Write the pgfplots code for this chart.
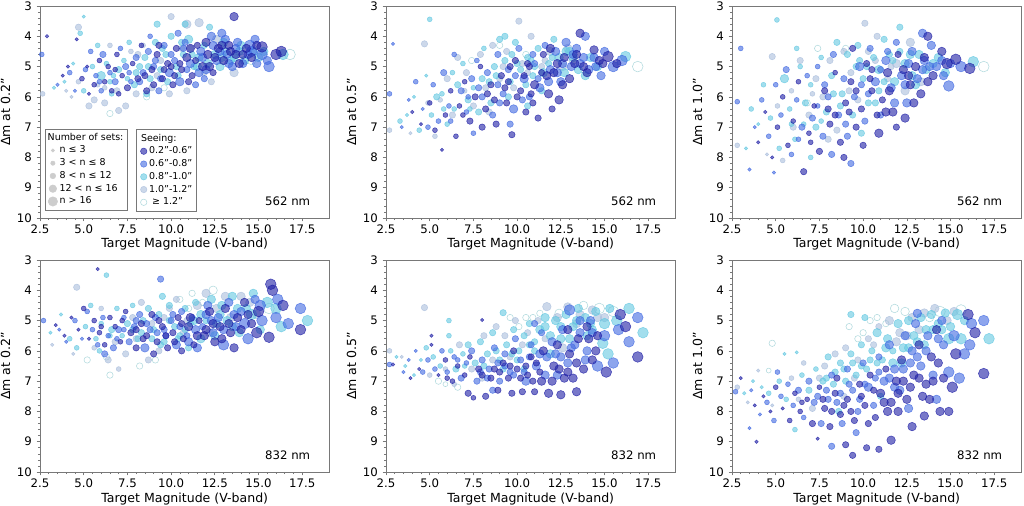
\documentclass[border=0pt]{standalone}
\usepackage{fontspec}
\setmainfont{DejaVu Sans}
\usepackage{pgfplots}
\usepackage{pgfplotstable}
\pgfplotsset{compat=1.18}
\definecolor{cA}{RGB}{30,30,165}
\definecolor{cB}{RGB}{65,105,225}
\definecolor{cC}{RGB}{100,200,225}
\definecolor{cD}{RGB}{170,190,220}
\definecolor{cE}{RGB}{150,205,210}
\definecolor{cG}{RGB}{205,205,205}
\definecolor{frame}{RGB}{120,120,120}

% ---------------- data: x = target magnitude, y = Delta m, s = size class value
% Panel 1: 562 nm, 0.2"
\pgfplotstableread[row sep=\\]{x y s\\
2.9 4.0 1.1\\ 3.8 5.3 1.1\\ 4.1 5.0 1.1\\ 4.6 4.1 1.1\\ 4.9 5.4 1.6\\ 5.3 5.9 1.1\\ 5.6 5.6 1.6\\ 5.9 4.8 1.6\\ 6.2 5.5 1.6\\ 6.4 5.0 1.6\\
6.6 5.8 1.6\\ 6.9 4.6 1.6\\ 7.2 5.3 1.6\\ 7.5 5.7 2.1\\ 7.8 4.9 1.6\\ 8.1 5.4 2.1\\ 8.3 4.3 1.6\\ 8.6 5.8 2.1\\ 8.9 5.1 2.1\\ 9.2 4.6 2.1\\
9.5 5.4 2.1\\ 9.8 4.9 2.1\\ 10.1 5.6 2.1\\ 10.3 4.4 2.1\\ 10.6 5.1 2.1\\ 10.9 4.7 2.8\\ 11.2 5.3 2.1\\ 11.5 4.3 2.1\\ 11.8 5.0 2.8\\ 12.1 4.6 2.8\\
12.4 5.2 2.1\\ 12.7 4.4 2.8\\ 13.0 4.8 2.8\\ 13.3 4.3 2.8\\ 13.7 4.6 2.8\\ 13.6 3.35 2.8\\ 14.3 4.4 2.8\\ 14.6 4.7 2.8\\ 15.2 4.35 3.5\\ 16.0 4.6 3.5\\
10.0 5.0 2.1\\ 9.0 5.6 2.1\\ 11.0 5.5 2.1\\ 12.0 4.2 2.8\\ 7.0 5.9 1.6\\ 16.3 4.5 3.5\\
9.6 5.1 2.1\\ 10.5 4.9 2.1\\ 11.4 4.8 2.1\\ 12.2 5.0 2.8\\ 13.4 4.5 2.8\\ 8.5 5.3 2.1\\ 12.9 4.3 2.8\\ 14.1 4.6 2.8\\
9.3 4.3 2.1\\ 10.2 5.3 2.1\\ 11.1 4.4 2.8\\ 12.5 4.7 2.8\\ 13.9 4.9 2.8\\ 14.9 4.3 2.8\\ 6.8 5.1 1.6\\ 5.2 5.0 1.1\\}\PoneA
\pgfplotstableread[row sep=\\]{x y s\\
2.6 4.6 1.6\\ 3.5 5.6 1.1\\ 4.2 5.2 1.6\\ 4.5 5.8 1.1\\ 5.1 5.1 1.6\\ 5.4 4.5 1.6\\ 5.7 5.3 1.6\\ 6.0 5.8 1.6\\ 6.1 4.6 2.1\\ 6.5 5.2 1.6\\
6.8 5.5 2.1\\ 7.1 4.4 1.6\\ 7.4 5.0 2.1\\ 7.7 5.5 1.6\\ 8.0 4.7 2.1\\ 8.4 5.2 2.1\\ 8.7 4.5 2.1\\ 9.0 5.0 2.1\\ 9.3 5.8 2.1\\ 9.6 4.3 2.1\\
9.9 5.2 2.8\\ 10.2 4.8 2.1\\ 10.5 5.5 2.8\\ 10.8 4.2 2.1\\ 11.1 4.9 2.8\\ 11.4 5.6 2.1\\ 11.7 4.5 2.8\\ 12.0 5.1 2.8\\ 12.3 4.0 2.8\\ 12.6 4.8 2.8\\
12.9 3.9 2.8\\ 13.2 4.6 2.8\\ 13.5 5.0 2.8\\ 13.8 4.2 2.8\\ 14.1 4.9 2.8\\ 14.5 4.3 3.5\\ 14.8 4.1 2.8\\ 15.2 4.6 3.5\\ 15.5 4.8 2.8\\ 15.6 5.0 3.5\\
14.9 4.9 2.8\\ 13.1 4.1 2.8\\ 10.4 3.9 2.1\\ 8.8 4.0 1.6\\ 11.9 5.4 2.1\\
9.1 4.8 2.1\\ 10.0 4.6 2.1\\ 10.9 5.1 2.1\\ 11.8 4.7 2.8\\ 12.8 4.5 2.8\\ 13.7 4.4 2.8\\ 8.2 5.5 2.1\\ 14.4 4.6 2.8\\
9.4 5.4 2.1\\ 10.7 4.4 2.1\\ 11.6 5.2 2.8\\ 12.4 4.3 2.8\\ 13.3 4.9 2.8\\ 14.6 4.5 3.5\\ 7.6 5.2 1.6\\ 5.9 5.5 1.6\\}\PoneB
\pgfplotstableread[row sep=\\]{x y s\\
3.3 5.7 1.1\\ 3.9 5.5 1.1\\ 4.4 4.9 1.1\\ 4.8 3.9 1.6\\ 5.0 5.8 1.6\\ 5.0 3.35 1.1\\ 5.5 5.0 1.6\\ 5.8 4.3 1.6\\ 6.0 5.3 2.8\\ 6.3 4.9 1.6\\
6.7 5.3 1.6\\ 7.0 5.1 2.1\\ 7.3 4.8 1.6\\ 7.6 4.2 1.6\\ 7.9 5.6 2.1\\ 8.2 5.0 2.1\\ 8.5 4.7 2.1\\ 8.8 5.4 2.1\\ 9.1 4.2 2.1\\ 9.4 5.1 2.1\\
9.7 4.6 2.1\\ 10.0 4.0 2.1\\ 10.4 5.3 2.1\\ 10.7 4.6 2.1\\ 11.0 4.1 2.8\\ 11.3 5.0 2.1\\ 11.6 4.7 2.8\\ 11.9 4.3 2.1\\ 12.2 3.7 2.1\\ 12.5 4.6 2.8\\
12.8 5.0 2.8\\ 13.1 4.5 2.8\\ 13.4 4.8 2.8\\ 13.9 4.5 2.8\\ 14.2 4.8 2.8\\ 14.7 4.5 2.8\\ 15.0 4.7 2.8\\ 16.4 4.6 3.5\\ 9.2 3.6 2.1\\ 10.8 3.6 2.1\\
6.6 5.9 1.6\\ 8.6 5.9 2.1\\
8.7 5.0 2.1\\ 9.5 4.4 2.1\\ 10.3 5.0 2.1\\ 11.2 4.6 2.1\\ 12.1 4.9 2.8\\ 13.0 4.2 2.8\\ 7.5 5.4 1.6\\ 14.0 4.3 2.8\\
9.8 5.5 2.1\\ 10.6 4.2 2.1\\ 11.5 5.0 2.8\\ 12.9 4.7 2.8\\ 13.6 4.7 2.8\\ 15.3 4.5 2.8\\ 6.5 5.5 1.6\\ 8.0 5.2 2.1\\}\PoneC
\pgfplotstableread[row sep=\\]{x y s\\
2.65 5.9 1.6\\ 4.0 5.8 1.1\\ 4.7 5.5 1.6\\ 5.3 6.3 2.1\\ 5.6 6.1 2.1\\ 5.8 5.6 1.6\\ 6.2 6.2 2.1\\ 6.5 4.3 1.6\\ 6.9 5.8 2.1\\ 7.0 6.45 2.1\\
7.7 4.5 1.6\\ 8.0 5.9 2.1\\ 8.4 4.3 1.6\\ 8.9 5.7 2.1\\ 9.4 4.8 2.1\\ 9.9 5.9 2.1\\ 10.0 3.35 2.1\\ 10.9 5.8 2.1\\ 10.9 3.6 2.8\\ 11.6 3.55 2.8\\
12.3 5.5 2.1\\ 13.6 5.2 2.8\\ 4.7 3.7 2.1\\ 4.3 6.0 1.1\\ 7.4 6.3 2.1\\ 11.1 4.4 2.1\\
9.2 5.3 2.1\\ 10.6 4.4 2.1\\ 11.9 5.2 2.1\\ 12.6 4.1 2.8\\ 8.1 4.6 2.1\\ 6.2 5.7 1.6\\}\PoneD
\pgfplotstableread[row sep=\\]{x y s\\
6.5 6.55 2.1\\ 16.8 4.6 3.5\\ 9.6 5.7 2.1\\ 14.6 4.8 2.8\\ 8.6 6.0 2.1\\}\PoneE

% Panel 2: 562 nm, 0.5"
\pgfplotstableread[row sep=\\]{x y s\\
4.0 6.5 1.1\\ 4.5 6.9 1.1\\ 5.0 6.2 1.6\\ 5.3 7.1 1.6\\ 5.7 7.75 1.1\\ 5.9 6.6 1.6\\ 6.2 5.8 1.6\\ 6.5 7.3 1.6\\ 6.7 6.3 1.6\\ 7.0 5.5 1.6\\
7.3 6.8 2.1\\ 7.6 6.0 2.1\\ 7.9 5.0 1.6\\ 8.2 6.4 2.1\\ 8.5 5.6 2.1\\ 8.8 6.9 2.1\\ 9.1 5.3 2.1\\ 9.4 6.2 2.1\\ 9.7 7.25 2.1\\ 9.9 4.8 2.1\\
10.2 5.8 2.1\\ 10.5 6.5 2.1\\ 10.7 5.0 2.1\\ 11.0 5.6 2.8\\ 11.2 6.7 2.1\\ 11.5 4.6 2.1\\ 11.8 5.9 2.8\\ 12.1 5.2 2.8\\ 12.4 6.1 2.8\\ 12.7 4.7 2.8\\
13.0 5.4 2.8\\ 13.3 4.9 2.8\\ 13.6 3.9 2.8\\ 14.0 5.2 2.8\\ 14.4 4.45 2.8\\ 14.7 4.8 2.8\\ 15.2 4.67 3.5\\ 15.7 4.9 2.8\\ 10.0 6.0 2.1\\ 8.0 7.0 2.1\\
9.3 5.7 2.1\\ 10.9 6.2 2.1\\ 12.0 6.4 2.1\\
10.4 5.3 2.1\\ 11.4 5.2 2.1\\ 12.3 4.9 2.8\\ 9.6 5.0 2.1\\ 13.4 4.6 2.8\\ 10.8 5.9 2.1\\ 8.7 6.1 2.1\\ 11.9 4.4 2.8\\
10.6 4.9 2.1\\ 11.7 5.3 2.8\\ 12.6 5.6 2.8\\ 13.8 5.0 2.8\\ 9.5 5.5 2.1\\ 6.9 6.6 1.6\\ 8.3 5.9 2.1\\ 14.9 4.9 2.8\\}\PtwoA
\pgfplotstableread[row sep=\\]{x y s\\
2.9 4.25 1.1\\ 2.7 5.9 1.6\\ 3.4 7.0 1.1\\ 3.8 6.1 1.1\\ 4.2 5.5 1.6\\ 4.6 6.4 1.1\\ 4.9 7.0 1.6\\ 5.2 5.6 1.6\\ 5.5 6.8 1.6\\ 5.8 5.2 2.1\\
6.1 6.3 1.6\\ 6.4 4.6 1.6\\ 6.8 5.8 2.1\\ 7.1 6.5 1.6\\ 7.4 5.4 2.1\\ 7.7 4.8 1.6\\ 8.0 6.0 2.1\\ 8.3 5.2 2.1\\ 8.6 6.6 2.1\\ 8.9 4.6 2.1\\
9.2 5.9 2.1\\ 9.5 5.1 2.1\\ 9.8 6.4 2.8\\ 10.1 4.4 2.1\\ 10.4 5.4 2.8\\ 10.7 6.0 2.1\\ 11.0 4.9 2.1\\ 11.3 5.7 2.8\\ 11.6 4.3 2.1\\ 11.9 5.1 2.8\\
12.2 4.5 2.8\\ 12.5 5.5 2.8\\ 12.8 4.2 2.8\\ 13.1 5.0 2.8\\ 13.4 4.4 2.8\\ 13.8 4.7 2.8\\ 14.1 5.1 2.8\\ 14.8 5.3 2.8\\ 15.0 4.5 2.8\\ 15.5 5.0 3.5\\
16.0 4.8 3.5\\ 13.9 4.0 2.8\\ 9.6 6.9 2.1\\ 7.5 7.2 1.6\\
9.9 5.3 2.1\\ 10.9 4.6 2.1\\ 11.8 5.5 2.8\\ 12.6 4.9 2.8\\ 13.6 4.9 2.8\\ 8.9 5.6 2.1\\ 14.4 4.7 2.8\\ 7.2 6.0 1.6\\
10.3 6.1 2.1\\ 11.2 5.4 2.1\\ 12.3 5.2 2.8\\ 13.2 4.6 2.8\\ 9.0 6.2 2.1\\ 6.2 6.8 1.6\\ 14.5 5.0 2.8\\ 7.8 5.7 2.1\\}\PtwoB
\pgfplotstableread[row sep=\\]{x y s\\
3.3 6.8 1.6\\ 3.7 6.6 1.1\\ 4.1 6.0 1.1\\ 4.4 7.1 1.6\\ 4.8 5.3 1.1\\ 5.0 3.44 1.6\\ 5.1 6.6 1.6\\ 5.4 6.0 2.1\\ 5.7 5.9 1.6\\ 6.0 6.9 1.6\\
6.3 5.2 1.6\\ 6.6 5.6 2.1\\ 6.9 4.9 1.6\\ 7.2 6.1 2.1\\ 7.5 5.7 1.6\\ 7.8 6.5 2.1\\ 8.1 4.4 1.6\\ 8.4 5.5 2.1\\ 8.7 5.0 2.1\\ 9.0 4.1 2.1\\
9.3 4.8 2.1\\ 9.6 5.5 2.1\\ 9.9 4.2 2.1\\ 10.2 5.1 2.1\\ 10.6 4.7 2.1\\ 10.9 5.3 2.1\\ 11.2 4.4 2.1\\ 11.5 5.2 2.8\\ 11.8 4.9 2.1\\ 12.1 4.1 2.1\\
12.4 4.7 2.8\\ 12.7 5.2 2.8\\ 13.0 4.5 2.8\\ 13.5 5.1 2.8\\ 14.2 4.7 2.8\\ 14.6 5.0 2.8\\ 16.2 4.67 3.5\\ 10.6 6.3 2.1\\ 8.5 6.2 2.1\\ 9.3 4.0 2.1\\
10.0 4.9 2.1\\ 11.0 5.0 2.1\\ 12.0 4.7 2.1\\ 13.2 4.7 2.8\\ 9.5 6.0 2.1\\ 10.5 5.6 2.1\\ 8.0 5.4 2.1\\ 6.4 6.4 1.6\\
9.7 4.6 2.1\\ 10.8 4.8 2.1\\ 11.4 5.8 2.1\\ 12.8 4.5 2.8\\ 13.9 5.3 2.8\\ 7.3 6.4 1.6\\ 5.8 6.4 1.6\\ 8.8 5.3 2.1\\}\PtwoC
\pgfplotstableread[row sep=\\]{x y s\\
2.7 7.1 1.6\\ 4.7 4.25 2.1\\ 3.9 7.2 1.1\\ 4.9 6.2 1.6\\ 5.6 6.1 1.6\\ 6.0 5.4 2.1\\ 6.6 4.7 2.1\\ 7.1 5.2 2.1\\ 7.5 6.3 2.1\\ 7.9 4.6 2.1\\
8.2 5.7 2.1\\ 8.6 4.3 2.1\\ 9.0 5.4 2.1\\ 9.4 4.5 2.1\\ 9.8 5.7 2.1\\ 10.1 3.5 2.1\\ 10.3 4.9 2.1\\ 10.8 4.0 2.1\\ 11.4 5.0 2.1\\ 11.9 4.5 2.8\\
12.6 5.0 2.8\\ 13.2 4.8 2.8\\ 6.3 6.6 2.1\\ 5.3 7.3 1.6\\
10.6 5.2 2.1\\ 11.6 4.8 2.1\\ 12.9 4.4 2.8\\ 9.2 5.0 2.1\\ 8.4 6.5 2.1\\ 7.0 5.8 1.6\\}\PtwoD
\pgfplotstableread[row sep=\\]{x y s\\
16.9 5.0 3.5\\ 9.0 4.3 2.1\\ 10.5 4.6 2.1\\ 7.4 4.8 2.1\\}\PtwoE

% Panel 3: 562 nm, 1.0"
\pgfplotstableread[row sep=\\]{x y s\\
4.0 7.5 1.1\\ 4.4 6.5 1.1\\ 4.8 8.0 1.1\\ 5.1 7.0 1.6\\ 5.4 6.0 1.6\\ 5.7 7.6 1.6\\ 6.0 6.8 1.6\\ 6.3 5.5 1.6\\ 6.6 8.47 2.1\\ 6.9 7.2 1.6\\
7.2 6.3 1.6\\ 7.5 7.8 2.1\\ 7.8 5.8 2.1\\ 8.1 6.9 2.1\\ 8.4 5.2 1.6\\ 8.7 7.5 2.1\\ 9.0 6.2 2.1\\ 9.3 5.5 2.1\\ 9.6 7.0 2.1\\ 9.9 6.4 2.1\\
10.2 4.9 2.1\\ 10.5 5.8 2.1\\ 10.9 7.2 2.8\\ 11.1 6.1 2.1\\ 11.4 5.2 2.8\\ 11.7 6.5 2.8\\ 12.0 4.6 2.1\\ 12.4 6.7 2.8\\ 12.7 5.6 2.8\\ 13.0 5.0 2.8\\
13.3 5.9 2.8\\ 13.7 4.0 2.8\\ 14.0 5.3 2.8\\ 14.5 4.5 2.8\\ 15.3 4.76 3.5\\ 16.1 5.06 3.5\\ 10.0 7.6 2.1\\ 8.9 8.0 2.1\\ 11.9 7.0 2.1\\ 9.4 4.4 2.1\\
10.4 5.4 2.1\\ 11.5 5.8 2.8\\ 12.3 5.1 2.8\\ 9.6 5.8 2.1\\ 13.5 4.7 2.8\\ 10.8 6.6 2.1\\ 8.4 6.6 2.1\\ 12.9 6.2 2.8\\
10.5 5.1 2.1\\ 11.3 6.5 2.8\\ 12.6 5.3 2.8\\ 13.7 5.5 2.8\\ 9.2 6.5 2.1\\ 7.0 7.5 1.6\\ 8.0 6.4 2.1\\ 14.8 4.9 3.5\\}\PthreeA
\pgfplotstableread[row sep=\\]{x y s\\
3.0 4.4 1.6\\ 2.8 6.16 1.6\\ 3.5 8.4 1.1\\ 3.8 7.0 1.1\\ 4.2 6.1 1.6\\ 4.9 8.5 1.1\\ 4.6 7.3 1.6\\ 5.0 5.6 1.6\\ 5.3 6.6 1.6\\ 5.6 5.1 2.1\\
5.9 7.9 1.6\\ 6.2 6.1 1.6\\ 6.5 7.0 2.1\\ 6.8 5.3 1.6\\ 7.1 6.7 2.1\\ 7.4 5.0 1.6\\ 7.7 7.3 2.1\\ 8.0 6.0 2.1\\ 8.3 4.6 2.1\\ 8.6 6.6 2.1\\
8.9 5.4 2.1\\ 9.3 8.2 2.1\\ 9.5 6.0 2.1\\ 9.8 5.0 2.8\\ 10.1 6.8 2.1\\ 10.4 4.4 2.1\\ 10.7 5.5 2.8\\ 11.0 6.6 2.1\\ 11.3 4.8 2.8\\ 11.6 5.7 2.8\\
11.9 4.2 2.1\\ 12.2 5.3 2.8\\ 12.5 6.2 2.8\\ 12.8 4.5 2.8\\ 13.1 5.4 2.8\\ 13.5 4.8 2.8\\ 13.9 4.3 2.8\\ 14.2 5.0 2.8\\ 14.9 5.64 3.5\\ 15.0 4.9 2.8\\
15.6 5.0 3.5\\ 8.2 7.9 2.1\\ 13.4 3.9 2.8\\
9.9 5.6 2.1\\ 11.0 5.1 2.1\\ 11.8 6.2 2.8\\ 12.6 4.9 2.8\\ 13.8 5.0 2.8\\ 9.0 6.9 2.1\\ 14.5 4.8 2.8\\ 7.4 6.3 1.6\\
10.3 5.9 2.1\\ 11.4 4.5 2.1\\ 12.4 5.6 2.8\\ 13.4 5.1 2.8\\ 9.1 7.3 2.1\\ 6.3 7.4 1.6\\ 14.6 5.3 2.8\\ 7.8 5.6 2.1\\}\PthreeB
\pgfplotstableread[row sep=\\]{x y s\\
3.3 7.7 1.1\\ 3.6 6.4 1.6\\ 4.0 6.9 1.1\\ 4.3 5.6 1.6\\ 4.7 6.7 1.6\\ 5.07 3.46 1.6\\ 5.2 7.7 1.6\\ 5.5 5.4 2.8\\ 5.8 6.4 1.6\\ 6.1 7.4 1.6\\
6.4 5.0 1.6\\ 6.7 6.2 2.1\\ 7.0 5.6 1.6\\ 7.3 7.0 2.1\\ 7.6 4.7 1.6\\ 7.9 6.5 2.1\\ 8.2 5.3 2.1\\ 8.5 4.2 2.1\\ 8.8 5.9 2.1\\ 9.1 4.6 2.1\\
9.4 6.6 2.1\\ 9.7 4.3 2.1\\ 10.0 5.4 2.1\\ 10.3 6.2 2.1\\ 10.6 4.7 2.1\\ 10.9 5.1 2.8\\ 11.2 4.1 2.1\\ 11.5 4.6 2.1\\ 11.8 5.5 2.8\\ 12.1 3.7 2.1\\
12.4 4.9 2.8\\ 12.8 5.3 2.8\\ 13.2 4.6 2.8\\ 13.6 5.1 2.8\\ 14.3 4.7 2.8\\ 14.7 5.2 2.8\\ 16.3 4.84 3.5\\ 9.9 7.2 2.1\\ 7.0 8.0 1.6\\ 6.2 4.4 1.6\\
10.2 5.0 2.1\\ 11.2 5.5 2.1\\ 12.1 4.5 2.1\\ 13.0 5.6 2.8\\ 9.6 5.0 2.1\\ 10.7 6.2 2.1\\ 8.3 5.9 2.1\\ 6.6 6.9 1.6\\
9.8 4.8 2.1\\ 10.9 5.8 2.1\\ 11.7 4.8 2.1\\ 12.7 4.6 2.8\\ 14.0 4.9 2.8\\ 7.6 6.8 1.6\\ 5.9 6.9 1.6\\ 8.7 6.3 2.1\\}\PthreeC
\pgfplotstableread[row sep=\\]{x y s\\
2.8 7.6 1.6\\ 4.8 4.67 2.1\\ 4.5 7.9 1.1\\ 5.1 6.3 1.6\\ 5.9 5.8 1.6\\ 6.4 4.8 2.1\\ 6.9 6.6 2.1\\ 7.3 5.4 2.1\\ 7.7 6.0 2.1\\ 8.1 4.8 2.1\\
8.5 7.1 2.1\\ 8.9 4.5 2.1\\ 9.3 5.2 2.1\\ 9.7 6.1 2.1\\ 10.1 3.57 2.1\\ 10.3 4.5 2.1\\ 10.8 4.0 2.1\\ 11.4 5.4 2.1\\ 11.9 4.9 2.8\\ 12.7 4.2 2.8\\
13.3 5.5 2.8\\ 6.0 7.0 2.1\\ 5.4 8.1 1.6\\
10.7 4.8 2.1\\ 11.6 5.0 2.1\\ 12.4 5.8 2.8\\ 9.2 5.8 2.1\\ 8.0 7.4 2.1\\ 7.1 5.9 1.6\\}\PthreeD
\pgfplotstableread[row sep=\\]{x y s\\
16.9 5.0 3.5\\ 6.8 6.2 2.1\\ 9.0 4.4 2.1\\ 7.4 4.4 2.1\\}\PthreeE

% Panel 4: 832 nm, 0.2"
\pgfplotstableread[row sep=\\]{x y s\\
3.4 5.15 1.1\\ 3.9 5.5 1.1\\ 4.3 4.9 1.1\\ 4.7 5.3 1.1\\ 5.0 4.6 1.6\\ 5.3 5.6 1.1\\ 5.8 3.3 1.1\\ 5.6 5.0 1.6\\ 5.9 5.4 1.6\\ 6.2 5.8 1.6\\
6.5 4.9 1.6\\ 6.8 5.2 1.6\\ 7.1 5.7 1.6\\ 7.4 4.7 1.6\\ 7.7 5.4 2.1\\ 8.0 5.9 2.1\\ 8.3 5.1 2.1\\ 8.6 5.5 2.1\\ 8.9 4.8 2.1\\ 9.2 5.7 2.1\\
9.5 5.2 2.1\\ 9.8 5.9 2.1\\ 10.1 5.4 2.1\\ 10.4 4.9 2.1\\ 10.7 5.6 2.1\\ 11.0 5.2 2.8\\ 11.3 5.8 2.1\\ 11.6 5.0 2.1\\ 11.9 5.5 2.8\\ 12.2 4.7 2.8\\
12.5 5.7 2.8\\ 12.8 5.2 2.8\\ 13.1 4.6 2.8\\ 13.4 5.4 2.8\\ 13.8 4.9 2.8\\ 14.2 4.4 2.8\\ 14.6 5.1 2.8\\ 15.0 4.7 3.5\\ 15.7 3.8 3.5\\ 15.6 5.55 3.5\\
16.4 4.5 3.5\\ 17.4 5.3 3.5\\ 15.8 4.0 3.5\\ 9.0 6.1 2.1\\ 10.6 6.0 2.1\\ 7.2 5.0 1.6\\ 13.6 5.9 2.8\\
8.0 5.3 2.1\\ 9.3 5.0 2.1\\ 10.2 5.7 2.1\\ 11.1 4.9 2.8\\ 12.0 5.3 2.8\\ 12.9 5.6 2.8\\ 14.0 5.3 2.8\\ 14.9 5.4 3.5\\
8.4 5.6 2.1\\ 9.7 5.5 2.1\\ 10.6 5.1 2.1\\ 11.5 5.5 2.8\\ 12.4 5.1 2.8\\ 13.3 5.1 2.8\\ 14.4 4.8 2.8\\ 6.0 5.2 1.6\\}\PfourA
\pgfplotstableread[row sep=\\]{x y s\\
2.7 5.0 1.6\\ 3.6 5.3 1.1\\ 4.0 5.7 1.1\\ 4.5 5.0 1.6\\ 4.9 5.6 1.1\\ 5.2 4.7 1.6\\ 5.5 5.3 1.6\\ 5.8 5.8 1.6\\ 6.1 4.9 1.6\\ 6.4 5.5 1.6\\
6.7 5.9 2.1\\ 7.0 5.3 2.1\\ 7.3 4.9 1.6\\ 7.6 5.7 2.1\\ 7.9 5.2 2.1\\ 8.2 4.8 2.1\\ 8.5 5.9 2.8\\ 8.8 5.3 2.1\\ 9.1 4.9 2.1\\ 9.4 3.63 2.1\\
9.7 5.5 2.1\\ 10.0 5.0 2.1\\ 10.3 5.8 2.8\\ 10.6 4.7 2.1\\ 10.9 5.5 2.1\\ 11.2 4.9 2.1\\ 11.5 5.9 2.8\\ 11.8 5.2 2.1\\ 12.1 4.5 2.8\\ 12.4 5.4 2.8\\
12.7 4.9 2.8\\ 13.0 5.8 3.5\\ 13.3 4.4 2.8\\ 13.7 5.2 2.8\\ 14.0 4.7 2.8\\ 14.4 5.6 3.5\\ 14.8 4.3 2.8\\ 15.2 5.0 3.5\\ 16.0 4.9 3.5\\ 16.7 5.1 3.5\\
17.4 4.6 3.5\\ 16.1 4.3 3.5\\ 6.2 6.1 2.1\\
7.3 5.3 1.6\\ 8.6 5.1 2.1\\ 9.6 5.3 2.1\\ 10.5 5.2 2.1\\ 11.4 5.3 2.8\\ 12.3 5.0 2.8\\ 13.6 4.8 2.8\\ 15.1 4.5 3.5\\
8.0 5.0 2.1\\ 9.2 5.4 2.1\\ 10.1 4.8 2.1\\ 11.0 5.7 2.8\\ 12.0 4.8 2.8\\ 13.0 5.3 2.8\\ 14.2 5.1 3.5\\ 6.9 5.6 1.6\\}\PfourB
\pgfplotstableread[row sep=\\]{x y s\\
3.1 5.4 1.1\\ 3.7 4.8 1.1\\ 4.2 5.6 1.6\\ 4.6 5.9 1.6\\ 5.1 5.2 1.6\\ 5.4 4.5 1.6\\ 6.3 3.5 1.6\\ 5.7 5.6 1.6\\ 6.0 5.1 1.6\\ 6.6 5.3 2.1\\
6.9 4.6 1.6\\ 7.2 5.5 1.6\\ 7.5 5.1 2.1\\ 7.8 4.5 1.6\\ 8.1 5.6 2.1\\ 8.4 5.0 2.1\\ 8.7 4.6 2.1\\ 9.0 5.3 2.1\\ 9.3 4.8 2.1\\ 9.6 5.7 2.1\\
9.9 4.5 2.1\\ 10.2 5.2 2.1\\ 10.5 5.5 2.1\\ 10.8 4.6 2.1\\ 11.1 5.1 2.1\\ 11.4 4.4 2.1\\ 11.7 5.6 2.8\\ 12.0 5.0 2.1\\ 12.3 4.3 2.8\\ 12.6 5.1 2.8\\
12.9 4.5 2.8\\ 13.2 5.0 2.8\\ 13.5 4.2 2.8\\ 13.9 5.4 2.8\\ 14.3 4.6 2.8\\ 14.7 4.1 2.8\\ 15.1 5.3 2.8\\ 15.5 4.4 3.5\\ 16.3 5.2 3.5\\ 17.8 5.0 3.5\\
9.5 4.2 2.1\\ 11.0 5.9 2.1\\ 5.9 6.0 1.6\\
7.8 5.3 2.1\\ 8.9 5.6 2.1\\ 9.9 5.0 2.1\\ 10.8 5.3 2.1\\ 11.7 4.8 2.8\\ 12.8 4.8 2.8\\ 13.8 4.6 2.8\\ 16.0 4.6 3.5\\
8.3 5.4 2.1\\ 9.4 5.8 2.1\\ 10.4 5.6 2.1\\ 11.3 5.0 2.8\\ 12.5 5.5 2.8\\ 13.5 5.2 2.8\\ 14.6 4.8 3.5\\ 6.5 5.5 1.6\\}\PfourC
\pgfplotstableread[row sep=\\]{x y s\\
4.6 3.9 2.1\\ 3.2 5.8 1.1\\ 4.4 6.1 1.1\\ 5.6 5.9 1.6\\ 6.0 4.6 1.6\\ 6.8 5.7 2.1\\ 7.4 6.1 2.1\\ 7.8 4.9 2.1\\ 8.3 4.4 2.1\\ 8.9 5.1 2.1\\
9.3 6.0 2.1\\ 9.9 4.6 2.1\\ 10.3 4.3 2.1\\ 10.9 5.0 2.1\\ 11.5 4.5 2.8\\ 12.0 4.1 2.8\\ 12.6 4.6 2.8\\ 13.4 4.9 2.8\\ 14.0 4.2 2.8\\ 14.9 4.8 2.8\\
6.4 6.3 2.1\\ 8.7 6.3 2.1\\ 7.0 6.6 1.6\\
8.0 5.6 2.1\\ 9.6 4.9 2.1\\ 10.7 5.4 2.1\\ 12.2 5.4 2.8\\ 13.1 4.2 2.8\\ 14.5 4.4 2.8\\}\PfourD
\pgfplotstableread[row sep=\\]{x y s\\
5.2 6.3 2.1\\ 6.3 6.2 2.1\\ 8.2 6.5 2.1\\ 9.1 6.3 2.1\\ 6.5 6.8 2.1\\ 10.5 4.3 2.1\\ 11.2 4.1 2.1\\ 11.8 4.4 2.1\\ 11.0 4.6 2.1\\ 12.4 4.0 2.8\\
15.6 4.6 3.5\\}\PfourE

% Panel 5: 832 nm, 0.5"
\pgfplotstableread[row sep=\\]{x y s\\
2.9 6.45 1.1\\ 3.9 6.9 1.1\\ 4.4 6.6 1.1\\ 5.1 5.5 1.1\\ 5.1 5.8 1.1\\ 5.5 6.8 1.1\\ 5.9 6.3 1.6\\ 6.3 7.0 1.6\\ 6.6 6.5 1.6\\ 7.0 6.8 1.6\\
7.2 7.4 2.1\\ 7.5 7.55 1.6\\ 7.8 6.6 2.1\\ 8.0 4.98 1.1\\ 8.2 7.5 2.1\\ 8.5 6.9 2.1\\ 8.9 7.3 2.1\\ 9.2 6.4 2.1\\ 9.5 6.9 2.1\\ 9.7 7.4 2.1\\
10.0 6.6 2.1\\ 10.3 7.35 2.1\\ 10.6 6.8 2.1\\ 10.8 6.2 2.1\\ 11.0 7.35 2.1\\ 11.3 6.7 2.1\\ 11.5 6.0 2.8\\ 11.8 7.4 2.8\\ 12.1 6.5 2.8\\ 12.5 7.45 2.8\\
12.7 6.9 2.8\\ 13.0 6.1 2.8\\ 13.4 7.35 2.8\\ 13.5 5.6 2.8\\ 13.8 6.6 2.8\\ 14.0 5.2 2.8\\ 14.1 5.6 2.8\\ 14.5 6.0 2.8\\ 15.1 6.7 3.5\\ 15.9 4.8 3.5\\
16.2 5.2 3.5\\ 16.9 6.2 3.5\\ 12.9 5.3 2.8\\ 9.8 6.0 2.1\\ 7.3 6.2 1.6\\ 10.9 7.0 2.1\\ 12.3 5.8 2.8\\
8.0 6.8 2.1\\ 9.0 6.7 2.1\\ 10.2 6.9 2.1\\ 11.1 6.4 2.1\\ 12.0 7.0 2.8\\ 12.9 6.7 2.8\\ 13.4 6.4 2.8\\ 14.6 5.5 2.8\\
8.7 6.6 2.1\\ 9.6 6.5 2.1\\ 10.5 6.5 2.1\\ 11.4 7.0 2.8\\ 12.4 6.6 2.8\\ 13.2 6.9 2.8\\ 14.3 6.3 2.8\\ 6.0 6.9 1.6\\}\PfiveA
\pgfplotstableread[row sep=\\]{x y s\\
2.7 6.45 1.6\\ 3.5 6.7 1.1\\ 3.8 6.3 1.1\\ 4.2 6.0 1.1\\ 4.6 6.7 1.6\\ 4.9 6.3 1.6\\ 5.3 6.6 1.6\\ 5.7 6.0 1.6\\ 6.0 6.7 1.6\\ 6.4 6.2 1.6\\
6.8 6.9 2.1\\ 7.1 6.4 1.6\\ 7.4 6.0 2.1\\ 7.7 7.0 2.1\\ 8.0 6.3 2.1\\ 8.4 6.6 2.1\\ 8.7 5.9 2.1\\ 9.0 7.0 2.1\\ 9.3 6.1 2.1\\ 9.6 6.7 2.1\\
9.9 5.6 2.1\\ 10.2 6.3 2.1\\ 10.5 7.0 2.8\\ 10.8 5.8 2.1\\ 11.1 6.5 2.8\\ 11.4 5.4 2.1\\ 11.7 6.2 2.8\\ 12.0 5.7 2.8\\ 12.3 6.8 2.8\\ 12.6 5.3 2.8\\
12.9 6.4 2.8\\ 13.0 4.65 3.5\\ 13.3 5.8 2.8\\ 13.6 5.0 2.8\\ 13.9 6.3 2.8\\ 14.3 5.4 2.8\\ 14.6 6.5 3.5\\ 15.0 5.5 3.5\\ 15.5 6.4 3.5\\ 15.8 5.3 3.5\\
16.9 4.9 3.5\\ 16.4 5.7 3.5\\ 11.0 5.1 2.1\\ 8.6 7.3 2.1\\
7.9 6.7 2.1\\ 8.9 6.4 2.1\\ 9.8 6.8 2.1\\ 10.7 6.2 2.1\\ 11.6 6.8 2.8\\ 12.5 6.2 2.8\\ 13.6 5.4 2.8\\ 14.2 5.0 2.8\\
8.3 6.9 2.1\\ 9.3 6.5 2.1\\ 10.4 6.7 2.1\\ 11.3 6.1 2.8\\ 12.2 6.1 2.8\\ 13.1 5.9 2.8\\ 14.0 6.0 2.8\\ 6.6 6.3 1.6\\}\PfiveB
\pgfplotstableread[row sep=\\]{x y s\\
3.1 6.2 1.1\\ 3.6 6.5 1.1\\ 4.1 6.8 1.1\\ 4.5 6.3 1.1\\ 4.8 5.9 1.6\\ 5.2 6.2 1.6\\ 5.6 6.5 1.6\\ 6.1 5.5 1.6\\ 6.2 6.0 1.6\\ 6.5 6.6 2.1\\
6.9 6.1 1.6\\ 7.2 5.8 2.1\\ 7.6 6.4 2.1\\ 7.9 5.7 2.1\\ 8.3 6.1 2.1\\ 8.6 5.4 2.1\\ 9.0 6.3 2.1\\ 9.2 4.74 2.1\\ 9.4 5.8 2.1\\ 9.8 5.3 2.1\\
10.1 6.0 2.1\\ 10.4 5.5 2.1\\ 10.7 5.1 2.1\\ 11.0 5.7 2.1\\ 11.3 5.3 2.8\\ 11.6 4.9 2.8\\ 11.9 5.5 2.8\\ 12.2 5.0 2.8\\ 12.5 5.6 2.8\\ 12.8 4.8 2.8\\
13.2 5.2 2.8\\ 13.5 4.6 2.8\\ 13.9 4.9 2.8\\ 14.2 5.1 2.8\\ 14.5 4.7 2.8\\ 14.9 5.75 3.5\\ 15.3 4.6 2.8\\ 15.7 5.0 3.5\\ 16.4 4.6 3.5\\ 17.2 5.4 3.5\\
6.1 5.0 1.6\\ 15.2 6.1 3.5\\ 10.4 6.6 2.1\\
8.1 6.5 2.1\\ 9.2 6.6 2.1\\ 10.0 6.3 2.1\\ 11.0 6.0 2.1\\ 11.9 6.1 2.8\\ 13.0 5.6 2.8\\ 14.0 5.5 2.8\\ 15.0 5.1 3.5\\
8.8 6.0 2.1\\ 9.7 6.1 2.1\\ 10.7 5.8 2.1\\ 11.6 5.2 2.8\\ 12.5 5.2 2.8\\ 13.4 5.0 2.8\\ 14.3 5.3 2.8\\ 7.0 6.5 1.6\\}\PfiveC
\pgfplotstableread[row sep=\\]{x y s\\
2.7 6.0 1.6\\ 4.7 4.57 2.1\\ 3.4 6.2 1.1\\ 5.0 6.8 1.6\\ 5.9 6.6 1.6\\ 6.7 5.8 2.1\\ 7.4 6.6 2.1\\ 8.1 5.5 2.1\\ 8.8 5.2 2.1\\ 9.3 5.5 2.1\\
9.9 5.0 2.1\\ 10.6 5.4 2.1\\ 11.2 5.0 2.1\\ 11.7 4.54 2.8\\ 12.3 4.9 2.8\\ 12.9 4.55 2.8\\ 13.6 4.8 2.8\\ 14.3 4.65 2.8\\ 15.0 4.9 2.8\\ 6.4 7.1 1.6\\
8.0 6.9 2.1\\ 9.6 6.2 2.1\\
8.6 6.3 2.1\\ 10.3 5.8 2.1\\ 11.6 5.6 2.1\\ 12.6 5.9 2.8\\ 13.4 5.1 2.8\\ 14.6 4.9 2.8\\}\PfiveD
\pgfplotstableread[row sep=\\]{x y s\\
6.6 7.2 2.1\\ 5.5 7.0 2.1\\ 5.9 7.1 1.6\\ 10.1 5.2 2.1\\ 10.5 4.9 2.1\\ 10.9 4.9 2.1\\ 11.3 4.76 2.1\\ 12.4 4.76 2.8\\ 14.7 4.6 3.5\\ 13.8 4.5 2.8\\
15.5 4.7 3.5\\ 9.6 4.9 2.1\\}\PfiveE

% Panel 6: 832 nm, 1.0"
\pgfplotstableread[row sep=\\]{x y s\\
3.0 6.9 1.1\\ 3.9 9.0 1.1\\ 3.8 7.8 1.1\\ 4.3 7.5 1.1\\ 4.7 8.0 1.1\\ 5.0 7.2 1.6\\ 5.4 7.9 1.1\\ 5.8 8.3 1.6\\ 6.1 7.4 1.6\\ 6.4 8.0 1.6\\
6.8 7.6 1.6\\ 7.1 8.4 2.1\\ 7.4 8.9 1.1\\ 7.5 7.2 1.6\\ 7.8 7.9 2.1\\ 8.1 8.5 2.1\\ 8.4 7.4 2.1\\ 8.7 8.1 2.1\\ 9.0 9.1 2.1\\ 9.1 7.6 2.1\\
9.4 9.45 2.1\\ 9.5 8.3 2.1\\ 9.8 7.1 2.1\\ 10.2 9.2 2.1\\ 10.1 7.8 2.1\\ 10.4 6.8 2.1\\ 10.7 8.2 2.1\\ 10.9 9.25 2.1\\ 11.0 7.4 2.8\\ 11.3 6.6 2.1\\
11.6 8.95 2.8\\ 11.6 7.7 2.8\\ 11.9 7.0 2.8\\ 12.2 6.3 2.8\\ 12.5 7.6 2.8\\ 12.8 8.5 2.8\\ 12.9 6.8 2.8\\ 13.2 5.8 2.8\\ 13.5 8.15 2.8\\ 13.6 7.1 2.8\\
13.9 6.2 2.8\\ 14.4 8.0 2.8\\ 14.2 5.3 2.8\\ 14.6 6.9 2.8\\ 14.9 8.0 2.8\\ 15.1 7.2 3.5\\ 15.3 6.1 3.5\\ 16.0 4.8 3.5\\ 16.4 5.4 3.5\\ 16.9 6.75 3.5\\
8.5 6.9 2.1\\ 12.0 8.0 2.8\\
7.7 7.6 2.1\\ 8.9 7.8 2.1\\ 9.9 7.5 2.1\\ 10.6 7.3 2.1\\ 11.4 8.0 2.8\\ 12.3 7.0 2.8\\ 13.2 6.9 2.8\\ 13.8 7.6 2.8\\ 14.3 6.4 2.8\\
8.2 8.0 2.1\\ 9.3 8.0 2.1\\ 10.3 8.4 2.1\\ 11.2 7.7 2.8\\ 12.0 7.4 2.8\\ 12.7 7.2 2.8\\ 13.4 7.5 2.8\\ 6.5 7.7 1.6\\ 14.0 7.0 2.8\\}\PsixA
\pgfplotstableread[row sep=\\]{x y s\\
2.7 7.35 1.6\\ 3.5 8.55 1.1\\ 3.6 7.3 1.1\\ 4.1 8.1 1.1\\ 4.5 7.7 1.6\\ 5.1 6.7 1.6\\ 4.9 8.3 1.6\\ 5.3 7.5 1.6\\ 5.7 7.1 1.6\\ 6.0 7.8 1.6\\
6.3 7.3 2.1\\ 6.6 8.2 1.6\\ 6.9 7.0 2.1\\ 7.2 7.7 2.1\\ 7.6 8.4 2.1\\ 7.9 7.3 2.1\\ 8.2 9.15 2.1\\ 8.2 6.8 2.1\\ 8.5 7.7 2.1\\ 8.8 8.4 2.1\\
9.1 6.6 2.1\\ 9.4 7.3 2.1\\ 9.7 8.0 2.1\\ 10.0 6.4 2.1\\ 10.3 7.2 2.8\\ 10.6 7.8 2.1\\ 10.9 6.2 2.1\\ 11.2 7.0 2.8\\ 11.5 5.8 2.8\\ 11.8 6.6 2.8\\
12.1 7.3 2.8\\ 12.4 5.5 2.8\\ 12.7 6.4 2.8\\ 13.0 5.1 2.8\\ 13.1 4.76 2.8\\ 13.3 6.5 2.8\\ 13.7 5.5 2.8\\ 14.0 6.8 2.8\\ 14.2 7.6 2.8\\ 14.5 5.0 2.8\\
14.9 6.7 3.5\\ 15.2 5.5 3.5\\ 15.5 6.9 3.5\\ 15.8 6.1 3.5\\ 16.1 5.8 3.5\\ 16.9 5.0 3.5\\ 16.2 5.1 3.5\\ 12.6 7.9 2.8\\ 9.6 8.7 2.1\\
8.0 7.6 2.1\\ 9.2 7.1 2.1\\ 10.1 7.1 2.1\\ 10.9 6.7 2.1\\ 11.8 7.2 2.8\\ 12.8 6.0 2.8\\ 13.6 6.0 2.8\\ 14.6 5.8 2.8\\
7.4 7.5 2.1\\ 8.7 7.4 2.1\\ 9.8 7.6 2.1\\ 10.7 6.9 2.1\\ 11.5 6.9 2.8\\ 12.3 6.6 2.8\\ 13.1 6.2 2.8\\ 14.3 5.6 2.8\\}\PsixB
\pgfplotstableread[row sep=\\]{x y s\\
3.2 7.4 1.1\\ 3.7 7.0 1.1\\ 4.2 7.2 1.1\\ 4.6 7.4 1.6\\ 5.5 6.1 1.1\\ 6.2 6.05 1.1\\ 5.2 7.0 1.6\\ 5.6 7.6 1.6\\ 6.1 8.6 1.6\\ 6.5 6.8 1.6\\
6.9 7.3 2.1\\ 7.3 6.6 1.6\\ 7.7 7.0 2.1\\ 8.0 6.2 2.1\\ 8.3 7.1 2.1\\ 8.7 6.4 2.1\\ 9.0 7.0 2.1\\ 9.3 4.8 2.1\\ 9.3 6.1 2.1\\ 9.6 6.8 2.1\\
9.9 5.8 2.1\\ 10.1 4.9 2.1\\ 10.2 6.6 2.1\\ 10.5 6.0 2.1\\ 10.8 5.4 2.8\\ 11.1 6.3 2.1\\ 11.4 5.6 2.8\\ 11.7 6.0 2.1\\ 12.0 5.1 2.8\\ 12.3 5.9 2.8\\
12.6 5.0 2.8\\ 12.9 5.5 2.8\\ 13.3 4.9 2.8\\ 13.6 5.3 2.8\\ 13.9 4.8 2.8\\ 14.3 5.1 2.8\\ 14.7 4.75 2.8\\ 15.0 5.2 2.8\\ 15.4 4.8 3.5\\ 15.8 5.0 2.8\\
17.2 5.6 3.5\\ 15.6 5.6 3.5\\ 11.0 7.5 2.1\\ 8.6 8.0 2.1\\
8.4 6.7 2.1\\ 9.4 6.4 2.1\\ 10.4 6.3 2.1\\ 11.3 5.9 2.8\\ 12.2 6.4 2.8\\ 13.1 5.7 2.8\\ 14.0 5.3 2.8\\ 14.9 5.6 3.5\\
7.9 6.9 2.1\\ 8.9 6.6 2.1\\ 9.9 6.5 2.1\\ 10.8 6.4 2.1\\ 11.7 6.4 2.8\\ 12.6 5.9 2.8\\ 13.5 5.8 2.8\\ 14.5 5.3 2.8\\}\PsixC
\pgfplotstableread[row sep=\\]{x y s\\
2.8 7.2 1.6\\ 4.0 6.65 1.1\\ 3.4 7.7 1.1\\ 4.8 7.8 1.1\\ 5.9 6.9 1.6\\ 6.6 6.4 1.6\\ 7.1 7.9 2.1\\ 7.8 6.5 2.1\\ 8.4 6.1 2.1\\ 9.0 5.9 2.1\\
9.7 6.3 2.1\\ 10.3 5.6 2.1\\ 10.9 5.2 2.1\\ 11.5 5.0 2.8\\ 12.1 5.4 2.8\\ 12.8 4.9 2.8\\ 13.5 4.75 2.8\\ 14.1 4.6 2.8\\ 14.8 5.0 2.8\\ 15.2 4.7 2.8\\
6.3 7.6 1.6\\ 8.9 7.5 2.1\\
7.5 6.9 2.1\\ 9.5 6.9 2.1\\ 10.6 5.8 2.1\\ 11.9 5.7 2.8\\ 13.2 5.3 2.8\\ 12.5 5.5 2.8\\}\PsixD
\pgfplotstableread[row sep=\\]{x y s\\
4.8 5.75 2.1\\ 4.6 6.65 1.6\\ 10.0 5.4 2.1\\ 10.4 5.0 2.1\\ 10.8 4.9 2.1\\ 11.3 5.1 2.1\\ 11.8 4.6 2.8\\ 12.4 4.7 2.8\\ 13.8 4.9 2.8\\ 15.6 4.65 3.5\\
14.4 4.7 3.5\\ 9.7 5.6 2.1\\ 9.2 5.2 2.1\\}\PsixE

\pgfplotsset{
  panel/.style={
    scale only axis, width=217pt, height=159pt, anchor=north west,
    xmin=2.5, xmax=19.05, ymin=3, ymax=10, y dir=reverse,
    xtick={2.5,5,7.5,10,12.5,15,17.5}, ytick={3,4,...,10},
    minor x tick num=4, minor y tick num=4,
    tick align=outside, xtick pos=left, ytick pos=left,
    major tick length=2.6pt, minor tick length=1.5pt,
    axis line style={frame, line width=0.6pt},
    every tick/.style={frame, line width=0.5pt},
    tick label style={font=\fontsize{8.8}{10}\selectfont},
    label style={font=\fontsize{9.4}{11}\selectfont},
    /pgf/number format/assume math mode=true,
    xticklabel style={/pgf/number format/.cd, fixed, fixed zerofill, precision=1, /tikz/yshift=0.8pt},
    xlabel={Target Magnitude (V-band)},
    xlabel style={yshift=3.5pt},
    ylabel style={yshift=-2pt},
    point meta min=0, point meta max=5,
  },
}
\tikzset{lab/.style={anchor=east, font=\fontsize{8.8}{10}\selectfont}}
\newcommand{\ser}[3]{%
  \addplot[forget plot, only marks, mark=*, scatter, point meta=\thisrow{s},
    scatter/@pre marker code/.code={%
      \pgfmathsetmacro\msz{\pgfplotspointmetatransformed/175}%
      \scope[mark size=\msz pt, draw=#2, fill=#1, fill opacity=0.6, draw opacity=0.75, line width=0.4pt]},
    scatter/@post marker code/.code={\endscope}]
    table[x=x, y=y] {#3};}
\newcommand{\panel}[5]{% A B C D E tables
  \ser{white}{cE}{#5}\ser{cD}{cD}{#4}\ser{cC}{cC}{#3}\ser{cB}{cB}{#2}\ser{cA}{cA}{#1}}

\begin{document}
\begin{tikzpicture}
\useasboundingbox (0,0) rectangle (768pt,-379.5pt);
% ---------- row 1
\begin{axis}[panel, at={(30pt,-4.5pt)}, ylabel={Δm at 0.2"},
  legend style={at={(0.017,0.036)}, anchor=south west, draw=frame, fill=white,
    font=\fontsize{7.1}{8}\selectfont, row sep=-0.4pt, inner sep=1.5pt,
    nodes={inner sep=1.6pt}},
  legend cell align=left,
  legend image code/.code={\draw[#1] plot coordinates {(0.15cm,0cm)};}]
\panel{\PoneA}{\PoneB}{\PoneC}{\PoneD}{\PoneE}
\node[lab] at (axis description cs:0.95,0.08) {562 nm};
\addlegendimage{empty legend}\addlegendentry{\hspace*{-9pt}Number of sets:}
\addlegendimage{only marks, mark=*, mark size=1.2pt, draw=cG, fill=cG}\addlegendentry{n ≤ 3}
\addlegendimage{only marks, mark=*, mark size=1.6pt, draw=cG, fill=cG}\addlegendentry{3 < n ≤ 8}
\addlegendimage{only marks, mark=*, mark size=2.1pt, draw=cG, fill=cG}\addlegendentry{8 < n ≤ 12}
\addlegendimage{only marks, mark=*, mark size=2.8pt, draw=cG, fill=cG}\addlegendentry{12 < n ≤ 16}
\addlegendimage{only marks, mark=*, mark size=3.5pt, draw=cG, fill=cG}\addlegendentry{n > 16}
\end{axis}
\begin{axis}[scale only axis, width=217pt, height=159pt, anchor=north west, at={(30pt,-4.5pt)},
  hide axis, xmin=0, xmax=1, ymin=0, ymax=1,
  legend style={at={(0.331,0.032)}, anchor=south west, draw=frame, fill=white,
    font=\fontsize{7.1}{8}\selectfont, row sep=-0.4pt, inner sep=1.5pt,
    nodes={inner sep=1.6pt}},
  legend cell align=left,
  legend image code/.code={\draw[#1] plot coordinates {(0.15cm,0cm)};}]
\addlegendimage{empty legend}\addlegendentry{\hspace*{-6pt}Seeing:}
\addlegendimage{only marks, mark=*, mark size=2.4pt, draw=cA, fill=cA, fill opacity=0.6, draw opacity=0.75}\addlegendentry{0.2"-0.6"}
\addlegendimage{only marks, mark=*, mark size=2.4pt, draw=cB, fill=cB, fill opacity=0.6, draw opacity=0.75}\addlegendentry{0.6"-0.8"}
\addlegendimage{only marks, mark=*, mark size=2.4pt, draw=cC, fill=cC, fill opacity=0.6, draw opacity=0.75}\addlegendentry{0.8"-1.0"}
\addlegendimage{only marks, mark=*, mark size=2.4pt, draw=cD, fill=cD, fill opacity=0.6, draw opacity=0.75}\addlegendentry{1.0"-1.2"}
\addlegendimage{only marks, mark=*, mark size=2.4pt, draw=cE, fill=white, draw opacity=0.75}\addlegendentry{\ ≥ 1.2"}
\end{axis}

\begin{axis}[panel, at={(289.5pt,-4.5pt)}, ylabel={Δm at 0.5"}]
\panel{\PtwoA}{\PtwoB}{\PtwoC}{\PtwoD}{\PtwoE}
\node[lab] at (axis description cs:0.95,0.08) {562 nm};
\end{axis}
\begin{axis}[panel, at={(549pt,-4.5pt)}, ylabel={Δm at 1.0"}]
\panel{\PthreeA}{\PthreeB}{\PthreeC}{\PthreeD}{\PthreeE}
\node[lab] at (axis description cs:0.95,0.08) {562 nm};
\end{axis}
% ---------- row 2
\begin{axis}[panel, at={(30pt,-195pt)}, ylabel={Δm at 0.2"}]
\panel{\PfourA}{\PfourB}{\PfourC}{\PfourD}{\PfourE}
\node[lab] at (axis description cs:0.95,0.08) {832 nm};
\end{axis}
\begin{axis}[panel, at={(289.5pt,-195pt)}, ylabel={Δm at 0.5"}]
\panel{\PfiveA}{\PfiveB}{\PfiveC}{\PfiveD}{\PfiveE}
\node[lab] at (axis description cs:0.95,0.08) {832 nm};
\end{axis}
\begin{axis}[panel, at={(549pt,-195pt)}, ylabel={Δm at 1.0"}]
\panel{\PsixA}{\PsixB}{\PsixC}{\PsixD}{\PsixE}
\node[lab] at (axis description cs:0.95,0.08) {832 nm};
\end{axis}
\end{tikzpicture}
\end{document}
